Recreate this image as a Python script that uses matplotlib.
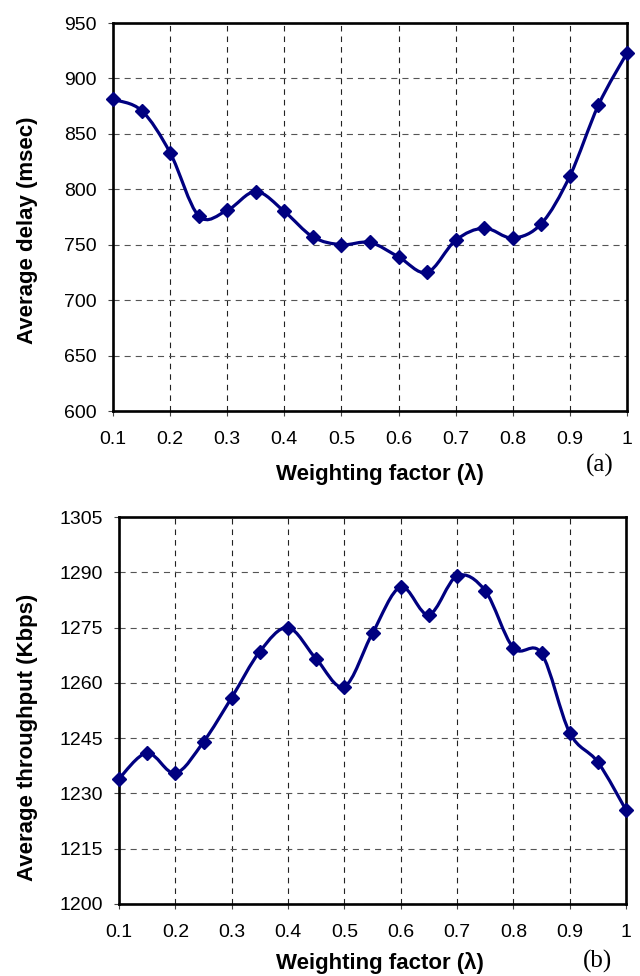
import matplotlib
matplotlib.use("Agg")
import matplotlib.pyplot as plt
from matplotlib.path import Path
from matplotlib.patches import PathPatch
import numpy as np

# ---- data ----
weights = [0.1, 0.15, 0.2, 0.25, 0.3, 0.35, 0.4, 0.45, 0.5, 0.55,
           0.6, 0.65, 0.7, 0.75, 0.8, 0.85, 0.9, 0.95, 1.0]
delay = [881, 871, 833, 776, 781, 798, 780, 757, 750, 752,
         739, 725, 754, 765, 756, 769, 812, 876, 923]
throughput = [1234, 1241, 1235.5, 1244, 1256, 1268.5, 1275, 1266.5, 1259, 1273.5,
              1286, 1278.5, 1289, 1285, 1269.5, 1268, 1246.5, 1238.5, 1225.5]
xticks = [0.1, 0.2, 0.3, 0.4, 0.5, 0.6, 0.7, 0.8, 0.9, 1.0]
xticklabels = ["0.1", "0.2", "0.3", "0.4", "0.5", "0.6", "0.7", "0.8", "0.9", "1"]
delay_ticks = [600, 650, 700, 750, 800, 850, 900, 950]
thr_ticks = [1200, 1215, 1230, 1245, 1260, 1275, 1290, 1305]

plt.rcParams['font.family'] = ['Liberation Sans', 'DejaVu Sans']

LINE = '#000080'


def smooth_path(xs, ys):
    pts = np.column_stack([xs, ys]).astype(float)
    n = len(pts)
    verts = [pts[0]]
    codes = [Path.MOVETO]
    for i in range(n - 1):
        p0 = pts[i - 1] if i > 0 else pts[i]
        p1 = pts[i]
        p2 = pts[i + 1]
        p3 = pts[i + 2] if i + 2 < n else pts[i + 1]
        c1 = p1 + (p2 - p0) / 6.0
        c2 = p2 - (p3 - p1) / 6.0
        verts += [c1, c2, p2]
        codes += [Path.CURVE4] * 3
    return Path(verts, codes)


def style_axes(ax, yticks, ylabel, xlab_coords, ylab_coords, tag, tag_xy):
    ax.set_xlim(0.1, 1.0)
    ax.set_ylim(yticks[0], yticks[-1])
    ax.set_xticks(xticks)
    ax.set_xticklabels(xticklabels)
    ax.set_yticks(yticks)
    ax.set_yticklabels([str(t) for t in yticks])
    ax.xaxis.grid(True, linestyle=(0, (5, 4.5)), color='#222222', linewidth=0.8)
    ax.yaxis.grid(True, linestyle=(0, (5.5, 4.5)), color='#555555', linewidth=0.8)
    ax.set_axisbelow(True)
    for s in ax.spines.values():
        s.set_linewidth(1.9)
        s.set_color('black')
    ax.tick_params(axis='both', direction='out', length=3.6, width=0.8,
                   colors='#444444', labelcolor='black', labelsize=14)
    ax.tick_params(axis='x', pad=10.5)
    ax.tick_params(axis='y', pad=8)
    ax.set_xlabel('Weighting factor (λ)', fontsize=16, fontweight='bold')
    ax.set_ylabel(ylabel, fontsize=16, fontweight='bold')
    ax.xaxis.set_label_coords(*xlab_coords)
    ax.xaxis.label.set_va('center')
    ax.yaxis.set_label_coords(*ylab_coords)
    ax.yaxis.label.set_va('center')
    ax.text(tag_xy[0], tag_xy[1], tag, transform=ax.transAxes,
            fontsize=18, family=['Liberation Serif'], ha='center', va='center')


fig = plt.figure(figsize=(6.4, 9.76), dpi=100)
ax1 = fig.add_axes([113 / 640, 1 - 411 / 976, 514 / 640, 388 / 976])
ax2 = fig.add_axes([119 / 640, 1 - 904 / 976, 507 / 640, 387 / 976])

for ax, ys in ((ax1, delay), (ax2, throughput)):
    patch = PathPatch(smooth_path(weights, ys), facecolor='none',
                      edgecolor=LINE, linewidth=2.3, clip_on=False, zorder=3)
    ax.add_patch(patch)
    ax.plot(weights, ys, linestyle='none', marker='D', markersize=7,
            color=LINE, clip_on=False, zorder=4)

style_axes(ax1, delay_ticks, 'Average delay (msec)',
           ((380 - 113) / 514, (411 - 474) / 388),
           ((28 - 113) / 514, (411 - 230) / 388),
           '(a)', ((600 - 113) / 514, (411 - 465) / 388))
style_axes(ax2, thr_ticks, 'Average throughput (Kbps)',
           ((380 - 119) / 507, (904 - 963) / 387),
           ((28 - 119) / 507, (904 - 737) / 387),
           '(b)', ((597 - 119) / 507, (904 - 961) / 387))

fig.savefig('out.png', dpi=100)
